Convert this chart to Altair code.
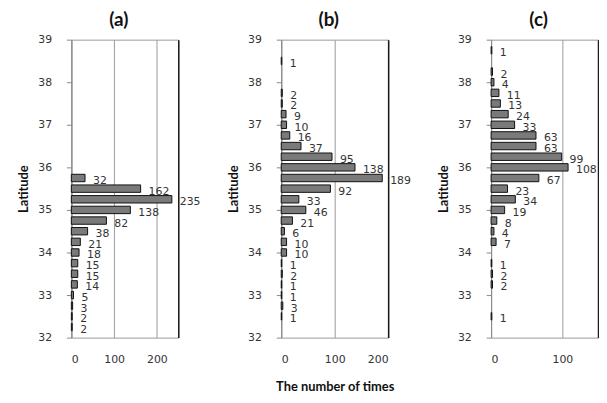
import altair as alt
import pandas as pd

lat_a = [35.75, 35.5, 35.25, 35.0, 34.75, 34.5, 34.25, 34.0, 33.75, 33.5, 33.25, 33.0, 32.75, 32.5, 32.25]
cnt_a = [32, 162, 235, 138, 82, 38, 21, 18, 15, 15, 14, 5, 3, 2, 2]

lat_b = [38.5, 37.75, 37.5, 37.25, 37.0, 36.75, 36.5, 36.25, 36.0, 35.75, 35.5, 35.25,
         35.0, 34.75, 34.5, 34.25, 34.0, 33.75, 33.5, 33.25, 33.0, 32.75, 32.5]
cnt_b = [1, 2, 2, 9, 10, 16, 37, 95, 138, 189, 92, 33, 46, 21, 6, 10, 10, 1, 2, 1, 1, 3, 1]

lat_c = [38.75, 38.25, 38.0, 37.75, 37.5, 37.25, 37.0, 36.75, 36.5, 36.25, 36.0, 35.75,
         35.5, 35.25, 35.0, 34.75, 34.5, 34.25, 33.75, 33.5, 33.25, 32.5]
cnt_c = [1, 2, 4, 11, 13, 24, 33, 63, 63, 99, 108, 67, 23, 34, 19, 8, 4, 7, 1, 2, 2, 1]

lat_ticks = [32, 33, 34, 35, 36, 37, 38, 39]

panels = [
    ("(a)", lat_a, cnt_a, 250, [0, 100, 200], False),
    ("(b)", lat_b, cnt_b, 200, [0, 100, 200], True),
    ("(c)", lat_c, cnt_c, 150, [0, 100], False),
]

NUM_FONT = "DejaVu Sans"
TITLE_FONT = "Lato"
GRID = "#9a9a9a"

charts = []
for title, lats, cnts, xmax, xvals, show_xtitle in panels:
    df = pd.DataFrame({"lat": lats, "count": cnts})
    x_axis = alt.Axis(
        values=xvals,
        ticks=False,
        domain=False,
        labelPadding=16,
        labelFont=NUM_FONT,
        labelFontSize=11,
        labelColor="#333333",
        labelOverlap=False,
        grid=True,
        gridColor=GRID,
        title="The number of times" if show_xtitle else None,
        titleFont=TITLE_FONT,
        titleFontSize=13,
        titleFontWeight="bold",
        titleColor="#111111",
        titlePadding=16,
    )
    y_axis = alt.Axis(
        values=lat_ticks,
        title="Latitude",
        titleFont=TITLE_FONT,
        titleFontSize=13,
        titleFontWeight="bold",
        titleColor="#111111",
        titlePadding=7,
        labelFont=NUM_FONT,
        labelFontSize=11,
        labelColor="#333333",
        labelPadding=15,
        tickSize=5,
        tickColor="#8a8a8a",
        domainColor="#8a8a8a",
        grid=False,
    )
    y_right = alt.Axis(
        orient="right", labels=False, ticks=False, title=None, grid=False,
        domainColor="#1a1a1a", domainWidth=1.5,
    )
    xs = alt.Scale(domain=[0, xmax], nice=False)
    ys = alt.Scale(domain=[32, 39], nice=False, zero=False, padding=0)
    base = alt.Chart(df)
    bars = base.mark_bar(orient="horizontal", size=7.5, color="#7a7a7a", stroke="#111111",
                         strokeWidth=1).encode(
        x=alt.X("count:Q", scale=xs, axis=x_axis),
        y=alt.Y("lat:Q", scale=ys, axis=y_axis),
    )
    labels = base.mark_text(align="left", baseline="middle", dx=8, dy=3, font=NUM_FONT,
                            fontSize=11, color="#333333").encode(
        x=alt.X("count:Q", scale=xs),
        y=alt.Y("lat:Q", scale=ys, axis=y_right),
        text="count:Q",
    )
    ch = alt.layer(bars, labels).resolve_axis(y="independent").properties(
        width=108, height=301,
        title=alt.TitleParams(title, font=TITLE_FONT, fontSize=19, fontWeight="bold",
                              color="#111111", anchor="middle", dx=-6, offset=4),
    )
    charts.append(ch)

chart = alt.hconcat(*charts, spacing=104, bounds="flush").properties(
    padding={"left": 9, "top": 0, "right": 0, "bottom": 0}
).configure_view(stroke=GRID, strokeWidth=1)

chart.save("out.html", embed_options={"renderer": "svg", "actions": False})
